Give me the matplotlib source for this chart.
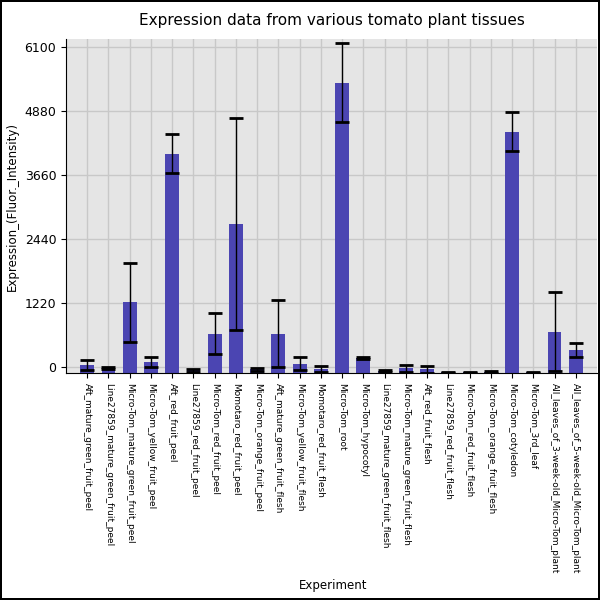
import matplotlib
matplotlib.use("Agg")
import matplotlib.pyplot as plt

labels = ["Aft_mature_green_fruit_peel", "Line27859_mature_green_fruit_peel",
          "Micro-Tom_mature_green_fruit_peel", "Micro-Tom_yellow_fruit_peel",
          "Aft_red_fruit_peel", "Line27859_red_fruit_peel", "Micro-Tom_red_fruit_peel",
          "Momotaro_red_fruit_peel", "Micro-Tom_orange_fruit_peel",
          "Aft_mature_green_fruit_flesh", "Micro-Tom_yellow_fruit_flesh",
          "Momotaro_red_fruit_flesh", "Micro-Tom_root", "Micro-Tom_hypocotyl",
          "Line27859_mature_green_fruit_flesh", "Micro-Tom_mature_green_fruit_flesh",
          "Aft_red_fruit_flesh", "Line27859_red_fruit_flesh", "Micro-Tom_red_fruit_flesh",
          "Micro-Tom_orange_fruit_flesh", "Micro-Tom_cotyledon", "Micro-Tom_3rd_leaf",
          "All_leaves_of_3-week-old_Micro-Tom_plant", "All_leaves_of_5-week-old_Micro-Tom_plant"]
values = [40, -20, 1235, 90, 4075, -60, 640, 2730, -40, 640, 70, -30,
          5430, 170, -75, -20, -40, -100, -95, -90, 4490, -100, 675, 330]
errors = [90, 15, 750, 95, 370, 25, 390, 2020, 25, 640, 115, 60,
          760, 20, 20, 70, 70, 5, 10, 15, 370, 5, 750, 130]

ymin, ymax = -115, 6260

fig = plt.figure(figsize=(6, 6), dpi=100)
fig.patch.set_edgecolor("black")
fig.patch.set_linewidth(1.5)
ax = fig.add_axes([0.11, 0.378, 0.885, 0.557])
ax.set_facecolor("#e5e5e5")
x = range(len(labels))
ax.bar(x, [v - ymin for v in values], bottom=ymin, width=0.65, color="#4b45b2", zorder=2)
ax.errorbar(x, values, yerr=errors, fmt="none", ecolor="black", elinewidth=1,
            capsize=5, capthick=2, zorder=3)
ax.set_ylim(ymin, ymax)
ax.set_xlim(-1.0, len(labels))
ax.set_yticks([0, 1220, 2440, 3660, 4880, 6100])
ax.set_xticks(list(x))
ax.set_xticklabels(labels, rotation=270, fontsize=6.5)
ax.tick_params(axis="y", labelsize=9)
ax.grid(True, color="#c8c8c8", linewidth=1, zorder=0)
ax.set_axisbelow(True)
for s in ["top", "right"]:
    ax.spines[s].set_visible(False)
ax.set_title("Expression data from various tomato plant tissues", fontsize=11, pad=10)
ax.set_ylabel("Expression_(Fluor._Intensity)", fontsize=8.5)
fig.text(0.555, 0.018, "Experiment", ha="center", fontsize=8.5)
fig.savefig("out.png", dpi=100, edgecolor=fig.get_edgecolor())
